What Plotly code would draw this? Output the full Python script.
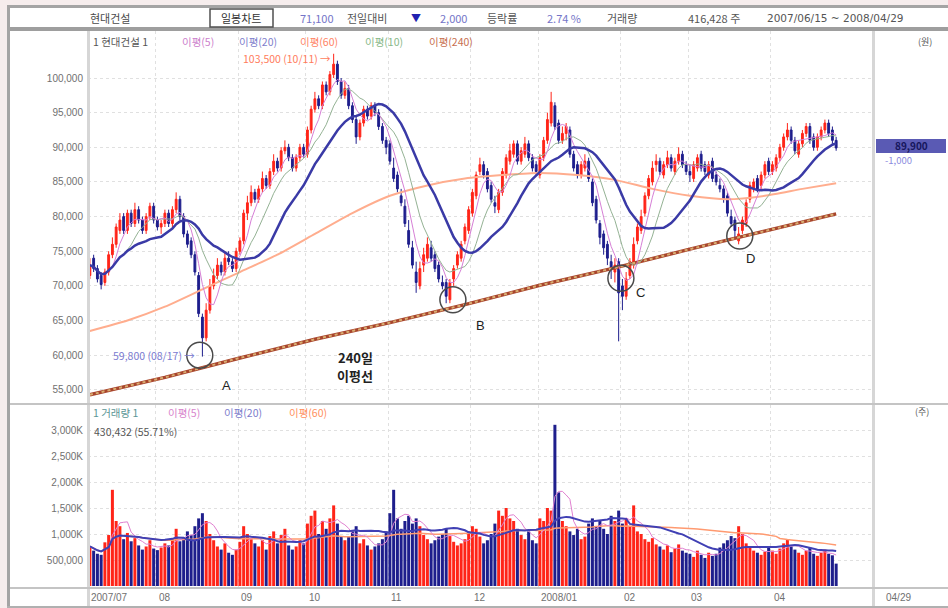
import numpy as np
import pandas as pd
import plotly.graph_objects as go

W, H = 948, 608

# ---------------- data ----------------
months = ["2007/07", "08", "09", "10", "11", "12", "2008/01", "02", "03", "04"]
month_days = [18, 22, 18, 22, 22, 18, 22, 18, 22, 18]

# prices in thousands of won
opens = [
    71.5, 74.0, 72.5, 71.5, 70.5, 72.0, 74.5, 76.0, 78.0, 80.0, 78.0, 80.5, 79.0, 81.0, 79.5, 78.0, 80.0, 81.5,
    79.5, 78.5, 79.0, 80.5, 79.0, 81.0, 82.5, 80.0, 77.5, 76.5, 74.5, 71.5, 65.5, 62.5, 66.5, 70.0, 71.5, 73.0, 72.0, 74.0, 73.5, 72.5,
    75.0, 76.5, 80.5, 82.0, 83.5, 82.5, 84.0, 85.5, 84.5, 86.5, 88.0, 87.0, 89.5, 90.0, 88.5, 87.0, 88.5, 90.0,
    89.0, 92.5, 95.5, 97.0, 96.0, 99.0, 98.0, 100.5, 102.0, 99.5, 97.5, 98.5, 96.0, 94.0, 91.5, 93.5, 95.5, 94.5, 96.0, 95.0, 93.0, 91.0,
    90.5, 87.0, 86.0, 83.0, 81.5, 78.0, 75.5, 72.0, 70.0, 73.0, 74.0, 75.5, 74.5, 73.0, 70.5, 70.5, 68.0, 71.0, 73.0, 74.0, 76.5, 78.0,
    80.5, 83.0, 86.5, 87.5, 86.5, 84.5, 82.0, 81.0, 83.5, 86.0, 88.0, 89.0, 90.5, 88.0, 89.0, 90.5, 88.5, 87.5,
    86.0, 88.5, 91.0, 93.5, 96.0, 93.5, 91.0, 92.0, 92.5, 89.0, 87.5, 86.0, 87.0, 88.0, 85.0, 82.5, 79.0, 77.5, 76.0, 73.5, 72.0, 73.5,
    70.0, 68.5, 71.5, 73.0, 76.5, 78.0, 80.5, 83.0, 85.0, 87.5, 88.0, 86.0, 87.5, 88.5, 86.5, 88.0, 89.0, 87.5,
    86.5, 85.5, 87.0, 89.0, 87.5, 86.0, 88.0, 86.0, 84.5, 84.0, 83.0, 80.0, 79.5, 76.5, 78.0, 79.0, 82.5, 84.0, 85.5, 84.5, 86.0, 88.0,
    86.5, 87.0, 88.5, 90.0, 91.5, 92.5, 91.0, 89.0, 90.5, 92.0, 93.0, 91.5, 90.0, 91.5, 92.5, 93.5, 92.5, 91.0,
]
highs = [
    74.0, 74.5, 73.0, 72.0, 72.5, 75.0, 77.0, 79.0, 80.5, 80.5, 81.0, 81.0, 82.0, 81.5, 80.0, 80.5, 82.0, 82.0,
    80.0, 79.5, 81.0, 81.0, 81.5, 83.5, 83.0, 80.5, 78.0, 77.0, 75.0, 72.0, 66.0, 67.5, 71.0, 72.5, 74.0, 73.5, 75.0, 75.0, 74.0, 75.5,
    77.0, 81.0, 83.0, 84.5, 84.0, 84.5, 86.5, 86.0, 87.0, 89.0, 88.5, 90.0, 91.0, 90.5, 89.0, 89.0, 90.5, 90.5,
    93.0, 96.0, 98.0, 97.5, 99.5, 99.5, 101.0, 103.5, 102.5, 100.0, 99.5, 99.0, 96.5, 94.5, 94.0, 96.0, 96.0, 96.5, 96.5, 95.5, 93.5, 91.5,
    91.0, 88.5, 86.5, 84.0, 82.5, 79.5, 76.5, 73.5, 73.5, 75.5, 77.0, 76.5, 75.0, 73.5, 71.5, 71.0, 71.0, 73.0, 75.0, 76.5, 79.0, 81.5,
    84.0, 86.5, 88.5, 88.0, 87.0, 85.0, 83.0, 84.0, 87.0, 89.0, 90.5, 91.0, 91.0, 90.0, 91.5, 91.0, 89.0, 88.0,
    89.0, 91.5, 95.0, 98.0, 96.5, 94.0, 93.0, 93.5, 93.0, 89.5, 88.0, 88.0, 89.0, 88.5, 85.5, 83.0, 79.5, 78.0, 76.5, 74.5, 74.0, 74.0,
    71.0, 72.0, 74.0, 77.0, 79.0, 81.0, 83.5, 86.0, 88.0, 89.0, 88.5, 88.0, 89.5, 89.0, 88.5, 90.0, 89.5, 88.0,
    87.5, 88.0, 89.0, 89.5, 88.0, 88.0, 88.5, 86.5, 85.5, 84.5, 83.5, 81.0, 80.0, 78.5, 80.0, 82.5, 85.0, 85.5, 86.0, 86.5, 88.0, 88.5,
    88.0, 89.0, 90.5, 92.0, 93.5, 93.0, 91.5, 91.0, 92.5, 93.5, 93.5, 92.0, 92.0, 93.0, 94.0, 94.0, 93.0, 91.5,
]
lows = [
    71.0, 72.0, 70.5, 69.5, 70.0, 71.5, 74.0, 75.5, 77.5, 77.5, 77.5, 78.5, 78.5, 79.0, 77.5, 77.5, 79.5, 79.0,
    78.0, 77.5, 78.5, 78.5, 78.5, 80.5, 79.5, 77.0, 75.5, 74.0, 71.5, 65.5, 59.8, 62.0, 66.0, 69.5, 71.0, 71.5, 71.5, 73.0, 72.0, 72.0,
    74.5, 76.0, 79.5, 81.5, 82.0, 82.0, 83.5, 84.0, 84.0, 86.0, 86.5, 86.5, 89.0, 88.0, 86.5, 86.5, 88.0, 88.5,
    88.5, 92.0, 95.0, 95.5, 95.5, 97.5, 97.5, 100.0, 99.0, 97.0, 97.0, 95.5, 93.5, 90.5, 91.0, 93.0, 94.0, 94.0, 94.5, 92.5, 90.5, 89.0,
    87.5, 85.0, 83.5, 81.5, 78.5, 75.5, 72.5, 69.0, 69.5, 72.0, 73.5, 73.5, 72.0, 70.5, 69.5, 67.5, 67.5, 70.0, 72.5, 73.5, 76.0, 77.5,
    80.0, 82.5, 86.0, 85.5, 83.5, 82.0, 80.5, 80.5, 83.0, 85.5, 87.5, 88.5, 87.5, 87.5, 88.5, 88.0, 86.5, 86.0,
    85.5, 88.0, 90.5, 93.0, 92.5, 90.5, 90.5, 91.0, 88.5, 86.5, 85.5, 85.5, 86.5, 85.0, 81.5, 79.0, 76.0, 74.5, 73.0, 71.0, 70.5, 62.0,
    66.5, 68.0, 71.0, 72.5, 76.0, 77.5, 80.0, 82.5, 84.5, 86.5, 86.0, 85.5, 87.0, 86.5, 86.0, 87.5, 87.0, 86.0,
    85.0, 85.0, 86.5, 86.5, 86.0, 85.5, 85.0, 84.5, 83.5, 82.0, 80.0, 78.5, 77.0, 76.0, 77.5, 78.5, 82.0, 83.5, 83.5, 84.0, 85.5, 86.0,
    86.0, 86.5, 88.0, 89.5, 91.0, 90.5, 89.0, 88.5, 90.0, 91.5, 90.5, 89.5, 89.5, 91.0, 92.0, 91.5, 90.5, 89.5,
]
closes = [
    73.0, 72.5, 71.0, 70.2, 72.0, 74.5, 76.0, 78.5, 79.5, 78.0, 80.5, 79.0, 81.0, 79.5, 78.0, 80.0, 81.5, 79.5,
    78.5, 79.0, 80.5, 79.0, 81.0, 82.5, 80.0, 77.5, 76.0, 74.5, 72.0, 66.0, 62.5, 66.5, 70.0, 71.5, 73.0, 72.0, 74.0, 73.5, 72.5, 75.0,
    76.5, 80.5, 82.0, 83.5, 82.5, 84.0, 85.5, 84.5, 86.5, 88.0, 87.0, 89.5, 90.0, 88.5, 87.0, 88.5, 90.0, 89.0,
    92.5, 95.5, 97.0, 96.0, 99.0, 98.0, 100.5, 102.0, 99.5, 97.5, 98.5, 96.0, 94.0, 91.5, 93.5, 95.5, 94.5, 96.0, 95.0, 93.0, 91.0, 90.0,
    88.0, 85.5, 84.0, 82.0, 79.0, 76.0, 73.0, 70.5, 72.5, 74.5, 76.0, 74.0, 72.5, 71.0, 70.0, 68.5, 70.5, 72.5, 74.5, 76.0, 78.5, 81.0,
    83.5, 86.0, 87.5, 86.0, 84.0, 82.5, 81.5, 83.5, 86.5, 88.5, 89.5, 90.5, 88.0, 89.5, 90.5, 88.5, 87.0, 86.5,
    88.5, 91.0, 94.0, 96.5, 93.0, 91.0, 92.0, 93.0, 89.0, 87.0, 86.0, 87.5, 88.0, 85.5, 82.0, 79.5, 77.0, 75.5, 74.0, 72.5, 73.0, 69.0,
    68.5, 71.0, 73.5, 76.0, 78.5, 80.0, 83.0, 85.5, 87.0, 88.0, 86.5, 87.5, 88.5, 87.0, 88.0, 89.0, 87.5, 86.5,
    86.0, 87.5, 88.5, 87.0, 86.5, 87.5, 85.5, 85.0, 84.0, 82.5, 80.5, 79.0, 78.0, 77.5, 79.5, 82.0, 84.5, 85.0, 84.0, 86.0, 87.5, 86.5,
    87.5, 88.5, 90.0, 91.5, 92.5, 91.0, 89.5, 90.5, 92.0, 93.0, 91.0, 90.0, 91.5, 92.5, 93.5, 92.0, 91.0, 89.9,
]
# volume in thousands of shares
volumes = [
    760, 680, 620, 600, 840, 980, 1850, 1250, 1150, 900, 1020, 860, 920, 780, 700, 760, 880, 720,
    690, 740, 820, 780, 900, 1100, 860, 920, 1050, 980, 1150, 1300, 1400, 1250, 1000, 880, 760, 700, 820, 640, 600, 700,
    850, 1150, 1000, 900, 820, 760, 880, 700, 960, 1050, 820, 980, 1100, 780, 700, 760, 880, 820,
    1200, 1350, 1450, 1000, 1250, 1100, 1300, 1550, 1200, 950, 880, 960, 1050, 1150, 820, 900, 780, 700, 760, 820, 900, 1050,
    1400, 1850, 1300, 1100, 1250, 1350, 1200, 1300, 1150, 980, 900, 820, 880, 950, 1000, 1100, 960, 850, 780, 820, 900, 1050,
    1150, 1100, 950, 820, 880, 1000, 1200, 1450, 1350, 1500, 1300, 1250, 1100, 980, 900, 1050, 880, 820,
    1300, 1250, 1500, 1450, 3100, 1800, 1250, 1150, 1050, 980, 1100, 900, 950, 1200, 1300, 1150, 1250, 1100, 1000, 1350, 1250, 1450,
    1200, 1300, 1150, 1550, 1050, 1000, 900, 850, 920, 800, 760, 700, 780, 650, 720, 800, 680, 640,
    620, 560, 680, 600, 540, 640, 580, 620, 740, 820, 880, 960, 920, 1150, 1000, 820, 740, 680, 640, 600, 660, 740,
    680, 620, 720, 820, 900, 760, 700, 640, 600, 680, 740, 620, 580, 640, 700, 620, 590, 430.432,
]

# long moving averages (thousands of won)
ma120_idx = [0, 10, 20, 30, 40, 50, 60, 70, 80, 90, 100, 110, 120, 130, 140, 150, 160, 170, 180, 190, 199]
ma120_val = [63.5, 65.0, 67.0, 69.5, 72.0, 74.5, 77.5, 80.5, 83.0, 84.5, 85.5, 86.0, 86.3, 86.0, 85.3,
             84.0, 83.0, 82.5, 83.0, 84.0, 84.8]
ma240_idx = [0, 20, 40, 60, 80, 100, 120, 140, 160, 180, 199]
ma240_val = [54.3, 56.8, 59.6, 62.3, 64.7, 67.3, 70.1, 72.6, 75.3, 77.9, 80.4]

# support touch points (circled A-D)
touch_idx = [29.3, 96.8, 141.6, 173.3]
touch_price = [60.0, 68.0, 71.1, 77.2]
touch_labels = ["A", "B", "C", "D"]

price_ticks = [55, 60, 65, 70, 75, 80, 85, 90, 95, 100]
vol_ticks = [500, 1000, 1500, 2000, 2500, 3000]
vol_tick_text = ["500,000", "1,000K", "1,500K", "2,000K", "2,500K", "3,000K"]

# ---------------- derived ----------------
n = len(closes)
idx = np.arange(n)
o = np.array(opens) * 1000
h = np.array(highs) * 1000
l = np.array(lows) * 1000
c = np.array(closes) * 1000
v = np.array(volumes, dtype=float)
cs = pd.Series(c)
vs = pd.Series(v)
ma5 = cs.rolling(5, min_periods=1).mean()
ma10 = cs.rolling(10, min_periods=1).mean()
ma20 = cs.rolling(20, min_periods=1).mean()
vma5 = vs.rolling(5, min_periods=1).mean()
vma20 = vs.rolling(20, min_periods=1).mean()
vma60 = vs.rolling(60, min_periods=1).mean()
month_start = np.cumsum([0] + month_days[:-1])

UP = "#ff2418"
DOWN = "#1e1e8c"

# ---------------- geometry ----------------
PLOT_L, PLOT_R = 88, 873
DAY_PX = 3.75
X0_PX = 89.9
xr = [(PLOT_L - X0_PX) / DAY_PX, (PLOT_R - X0_PX) / DAY_PX]
xdom = [PLOT_L / W, PLOT_R / W]
PX_PER_K = 6.93
def price_at(ypx):
    return (100 - (ypx - 78) / PX_PER_K) * 1000
P_TOP, P_BOT = 31, 403
V_TOP, V_BOT = 405, 587
yr_p = [price_at(P_BOT), price_at(P_TOP)]
def vol_at(ypx):
    return (586 - ypx) / 26 * 500
yr_v = [vol_at(V_BOT), vol_at(V_TOP)]

fig = go.Figure()

fig.add_trace(go.Candlestick(
    x=idx, open=o, high=h, low=l, close=c, xaxis="x", yaxis="y",
    increasing=dict(line=dict(color=UP, width=1), fillcolor=UP),
    decreasing=dict(line=dict(color=DOWN, width=1), fillcolor=DOWN),
    whiskerwidth=0, hoverinfo="skip", showlegend=False))

fig.add_trace(go.Scatter(x=ma240_idx, y=np.array(ma240_val) * 1000, mode="lines",
                         line=dict(color="#a8452c", width=3.5), xaxis="x", yaxis="y", hoverinfo="skip"))
fig.add_trace(go.Scatter(x=ma240_idx, y=np.array(ma240_val) * 1000, mode="lines",
                         line=dict(color="#d9ad72", width=2, dash="dot"), xaxis="x", yaxis="y", hoverinfo="skip"))
fig.add_trace(go.Scatter(x=ma120_idx, y=np.array(ma120_val) * 1000, mode="lines",
                         line=dict(color="#ffad8e", width=2, shape="spline", smoothing=0.6),
                         xaxis="x", yaxis="y", hoverinfo="skip"))
fig.add_trace(go.Scatter(x=idx, y=ma10, mode="lines", line=dict(color="#94b294", width=1),
                         xaxis="x", yaxis="y", hoverinfo="skip"))
fig.add_trace(go.Scatter(x=idx, y=ma5, mode="lines", line=dict(color="#d67fd6", width=1),
                         xaxis="x", yaxis="y", hoverinfo="skip"))
fig.add_trace(go.Scatter(x=idx, y=ma20, mode="lines", line=dict(color="#3a3aa6", width=2.5),
                         xaxis="x", yaxis="y", hoverinfo="skip"))

vcol = [UP if cc >= oo else DOWN for oo, cc in zip(o, c)]
fig.add_trace(go.Bar(x=idx, y=v, marker=dict(color=vcol, line=dict(width=0)), width=0.8,
                     xaxis="x2", yaxis="y2", hoverinfo="skip"))
fig.add_trace(go.Scatter(x=idx, y=vma60, mode="lines", line=dict(color="#ff9a70", width=1.5),
                         xaxis="x2", yaxis="y2", hoverinfo="skip"))
fig.add_trace(go.Scatter(x=idx, y=vma5, mode="lines", line=dict(color="#e080d0", width=1),
                         xaxis="x2", yaxis="y2", hoverinfo="skip"))
fig.add_trace(go.Scatter(x=idx, y=vma20, mode="lines", line=dict(color="#4040b4", width=2),
                         xaxis="x2", yaxis="y2", hoverinfo="skip"))

TF = dict(family="Liberation Sans", size=10, color="#707070")
GRID = "#e0e0e0"
tv = month_start - 0.5
fig.update_layout(
    width=W, height=H, autosize=False, margin=dict(l=0, r=0, t=0, b=0),
    paper_bgcolor="white", plot_bgcolor="white", showlegend=False,
    xaxis=dict(domain=xdom, range=xr, anchor="y", tickvals=tv, showticklabels=False, ticks="",
               showgrid=True, gridcolor=GRID, griddash="dot", zeroline=False, showline=False,
               rangeslider=dict(visible=False)),
    xaxis2=dict(domain=xdom, range=xr, anchor="y2", tickvals=tv, showticklabels=False, ticks="",
                showgrid=True, gridcolor=GRID, griddash="dot", zeroline=False, showline=False),
    yaxis=dict(domain=[1 - P_BOT / H, 1 - P_TOP / H], range=yr_p, anchor="x",
               tickvals=[t * 1000 for t in price_ticks], ticktext=[f"{t*1000:,}" for t in price_ticks],
               side="left", ticks="", tickfont=TF, ticklabelstandoff=4,
               showgrid=True, gridcolor=GRID, griddash="dot", zeroline=False, showline=False),
    yaxis3=dict(overlaying="y", anchor="x", side="right", range=yr_p,
                tickvals=[t * 1000 for t in price_ticks], ticktext=[f"{t*1000:,}" for t in price_ticks],
                ticks="", tickfont=TF, ticklabelstandoff=9, showgrid=False, zeroline=False, showline=False),
    yaxis2=dict(domain=[1 - V_BOT / H, 1 - V_TOP / H], range=yr_v, anchor="x2",
                tickvals=vol_ticks, ticktext=vol_tick_text, side="left", ticks="", tickfont=TF,
                ticklabelstandoff=4, showgrid=True, gridcolor=GRID, griddash="dot",
                zeroline=False, showline=False),
    yaxis4=dict(overlaying="y2", anchor="x2", side="right", range=yr_v,
                tickvals=vol_ticks, ticktext=vol_tick_text, ticks="", tickfont=TF,
                ticklabelstandoff=9, showgrid=False, zeroline=False, showline=False),
)

# ---------------- frame & decorations ----------------
def rect(x0, y0, x1, y1, fill=None, line=None, lw=0):
    fig.add_shape(type="rect", xref="paper", yref="paper", x0=x0 / W, x1=x1 / W,
                  y0=1 - y0 / H, y1=1 - y1 / H, fillcolor=fill,
                  line=dict(color=line or "rgba(0,0,0,0)", width=lw))

def hline(x0, x1, y, color, w):
    fig.add_shape(type="line", xref="paper", yref="paper", x0=x0 / W, x1=x1 / W,
                  y0=1 - y / H, y1=1 - y / H, line=dict(color=color, width=w))

def vline(x, y0, y1, color, w):
    fig.add_shape(type="line", xref="paper", yref="paper", x0=x / W, x1=x / W,
                  y0=1 - y0 / H, y1=1 - y1 / H, line=dict(color=color, width=w))

rect(0, 0, 7, H, fill="#f6eded")
rect(0, 0, W, 5, fill="#f6eded")
rect(7, 5, 10, H, fill="#a4a4a4")
rect(7, 5, W, 8, fill="#a4a4a4")
rect(10, 27, W, 31, fill="#9e9e9e")
rect(7, 606, W, H, fill="#b0b0b0")
rect(210, 9, 273, 27, line="#505050", lw=1.5)
vline(88.5, 31, 606, "#d6d6d6", 3)
vline(873.5, 31, 606, "#d6d6d6", 3)
hline(10, W, 404, "#c4c4c4", 2)
hline(10, W, 588, "#c4c4c4", 2)

KR = "Noto Sans CJK KR"
def txt(x, y, s, color="#555555", size=11, anchor="left", family=KR, bold=False):
    if bold:
        s = f"<b>{s}</b>"
    fig.add_annotation(x=x / W, y=1 - y / H, xref="paper", yref="paper", text=s, showarrow=False,
                       xanchor=anchor, yanchor="middle", font=dict(family=family, size=size, color=color))

# header
txt(110, 18, "현대건설", "#4a4a4a", 11, "center")
txt(241, 18, "일봉차트", "#333333", 11, "center")
txt(298, 18, "71,100", "#7474c8", 11)
txt(345, 18, "전일대비", "#555555", 11)
txt(416, 18, "▼", "#2222b0", 10, "center")
txt(438, 18, "2,000", "#7474c8", 11)
txt(485, 18, "등락률", "#555555", 11)
txt(545, 18, "2.74 %", "#7474c8", 11)
txt(605, 18, "거래량", "#555555", 11)
txt(686, 18, "416,428 주", "#555555", 11)
txt(765, 18, "2007/06/15 ~ 2008/04/29", "#555555", 10.5, family="DejaVu Sans")

# price legend
txt(91, 42, "1 현대건설 1", "#555555", 10.5)
txt(180, 42, "이평(5)", "#cc80cc", 10.5)
txt(237, 42, "이평(20)", "#8080cc", 10.5)
txt(298, 42, "이평(60)", "#ff8466", 10.5)
txt(363, 42, "이평(10)", "#88b888", 10.5)
txt(427, 42, "이평(240)", "#c87050", 10.5)
txt(925, 41, "(원)", "#555555", 9, "center")

# volume legend
txt(91, 412, "1 거래량 1", "#5a9696", 10.5)
txt(166, 412, "이평(5)", "#d884cc", 10.5)
txt(222, 412, "이평(20)", "#7c7ccc", 10.5)
txt(287, 412, "이평(60)", "#ff9060", 10.5)
txt(92, 431, f"{v[-1]*1000:,.0f} (55.71%)", "#555555", 10.5)
txt(922, 411, "(주)", "#555555", 9, "center")

# month labels along the bottom axis (anchored at month starts on the x scale)
for ms, lab in zip(tv, months):
    fig.add_annotation(x=ms, y=1 - 597 / H, xref="x2", yref="paper", text=lab, showarrow=False,
                       xanchor="left", yanchor="middle", xshift=1,
                       font=dict(family="Liberation Sans", size=10, color="#707070"))
txt(898, 597, "04/29", "#707070", 10, "center", family="Liberation Sans")

# high / low notes
hi_i = int(np.argmax(h))
lo_i = int(np.argmin(l))
txt(333, 58, f"{h[hi_i]:,.0f} (10/11) →", "#ff7c5c", 10.5, "right")
txt(197, 355, f"{l[lo_i]:,.0f} (08/17) →", "#7a7ad0", 10.5, "right")

# current price box
rect(876, 139, 946, 153, fill="#5a5ab4")
txt(911, 146, f"{c[-1]:,.0f}", "#16165c", 10, "center", bold=True)
txt(883, 160, "-1,000", "#8a8ade", 9.5)

# circles and labels
R = 13
label_off = [(27, 30), (28, 26), (20, 14), (11, 22)]
for ti, tp, lab, (dx, dy) in zip(touch_idx, touch_price, touch_labels, label_off):
    fig.add_shape(type="circle", xref="x", yref="y",
                  x0=ti - R / DAY_PX, x1=ti + R / DAY_PX,
                  y0=tp * 1000 - R / PX_PER_K * 1000, y1=tp * 1000 + R / PX_PER_K * 1000,
                  line=dict(color="#4a4a4a", width=1.5))
    fig.add_annotation(x=ti, y=tp * 1000, xref="x", yref="y", text=lab, showarrow=False,
                       xshift=dx, yshift=-dy, font=dict(family="Liberation Sans", size=13, color="#222222"))

txt(355, 357, "240일", "#222222", 13, "center", bold=True)
txt(355, 375, "이평선", "#222222", 13, "center", bold=True)

fig.write_html("out.html", config={"displayModeBar": False, "staticPlot": True})

# remove the browser's default page margin so the figure sits at the window origin
with open("out.html", "r", encoding="utf-8") as f:
    page = f.read()
page = page.replace("<head>", "<head><style>html,body{margin:0;padding:0;overflow:hidden;}</style>", 1)
with open("out.html", "w", encoding="utf-8") as f:
    f.write(page)
